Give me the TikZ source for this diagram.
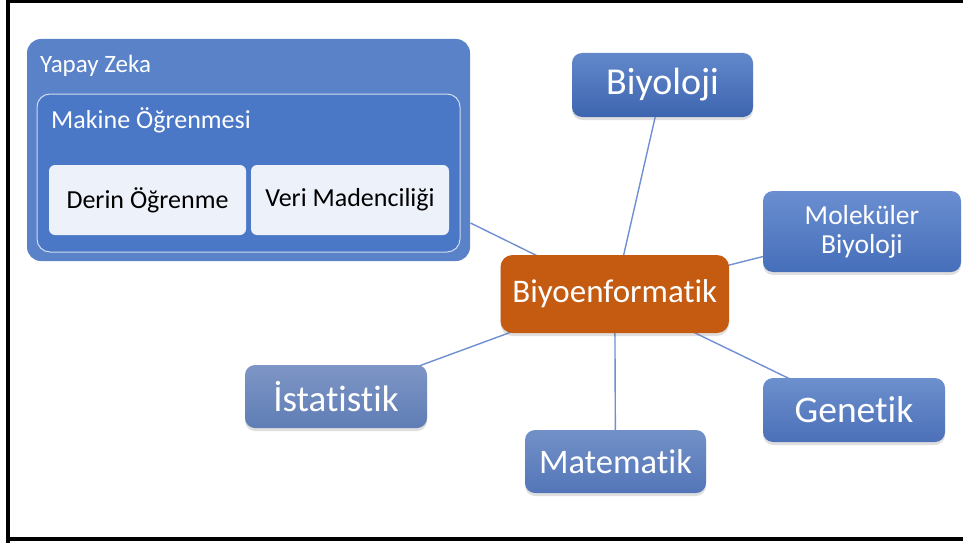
\documentclass[tikz,border=0pt]{standalone}
\usepackage{fontspec}
\setmainfont{Carlito}[Ligatures={NoCommon}]
\usetikzlibrary{shadows,backgrounds}
\definecolor{orangebox}{HTML}{C55A11}
\definecolor{linkblue}{HTML}{6E8FD2}
\definecolor{outerblue}{HTML}{5A82C9}
\definecolor{innerblue}{HTML}{4A77C6}
\definecolor{leaffill}{HTML}{EDF1F9}
\definecolor{innerline}{HTML}{D0DCF0}
\tikzset{
  x=1pt, y=-1pt,
  topic/.style={rounded corners=10pt, inner sep=0pt, text=white, align=center,
    drop shadow={opacity=0.25, shadow xshift=0pt, shadow yshift=-3pt}},
  link/.style={draw=linkblue, line width=1.4pt},
  leaf/.style={fill=leaffill, rounded corners=6pt, inner sep=0pt, text=black,
    minimum width=197pt, minimum height=70pt, font=\fontsize{26}{28}\selectfont},
}
\begin{document}
\begin{tikzpicture}
\useasboundingbox (0,0) rectangle (963,543);
% frame
\draw[line width=3.5pt] (8,543) -- (8,1.5) -- (963,1.5);
\draw[line width=3.5pt] (8,539) -- (963,539);

% containers
\node[fill=outerblue, rounded corners=14pt, minimum width=443pt, minimum height=222pt, inner sep=0pt] (yz) at (248.5,150) {};
\node[anchor=base west, text=white, font=\fontsize{25}{27}\selectfont, inner sep=0pt] (yzl) at (40,73) {Yapay Zeka};
\node[fill=innerblue, draw=innerline, line width=1pt, rounded corners=13pt, minimum width=423pt, minimum height=158pt, inner sep=0pt] (ml) at (248.5,173) {};
\node[anchor=base west, text=white, font=\fontsize{26}{28}\selectfont, inner sep=0pt] (mll) at (51,128) {Makine Öğrenmesi};
\node[leaf] (dl) at (147.5,200) {Derin Öğrenme};
\node[leaf, minimum width=198pt] (dm) at (350,200) {Veri Madenciliği};

% center
\node[fill=orangebox, rounded corners=12pt, inner sep=0pt, text=white,
  minimum width=228.5pt, minimum height=78pt, font=\fontsize{33}{35}\selectfont,
  drop shadow={opacity=0.25, shadow xshift=0pt, shadow yshift=-3pt}] (bio) at (614.75,294) {Biyoenformatik};

% topics
\node[topic, top color={rgb,255:red,98;green,136;blue,203}, bottom color={rgb,255:red,61;green,101;blue,175},
  minimum width=181pt, minimum height=64pt, font=\fontsize{38}{40}\selectfont] (by) at (662.5,85) {Biyoloji};
\node[topic, top color={rgb,255:red,106;green,142;blue,208}, bottom color={rgb,255:red,70;green,111;blue,186},
  minimum width=198pt, minimum height=81pt, font=\fontsize{27.5}{29}\selectfont] (mb) at (862,231.5) {Moleküler\\Biyoloji};
\node[topic, top color={rgb,255:red,126;green,150;blue,198}, bottom color={rgb,255:red,95;green,125;blue,181},
  minimum width=182pt, minimum height=63pt, font=\fontsize{37}{39}\selectfont] (st) at (336,396.5) {İstatistik};
\node[topic, top color={rgb,255:red,114;green,144;blue,200}, bottom color={rgb,255:red,84;green,118;blue,184},
  minimum width=181pt, minimum height=63pt, font=\fontsize{34.5}{36}\selectfont] (mt) at (615.5,461.5) {Matematik};
\node[topic, top color={rgb,255:red,108;green,143;blue,205}, bottom color={rgb,255:red,76;green,112;blue,184},
  minimum width=182pt, minimum height=64pt, font=\fontsize{37.5}{39}\selectfont] (gn) at (854,410) {Genetik};

\coordinate (yzc) at (470.5,223);

\begin{scope}[on background layer]
\draw[link] (yzc) -- (bio.center);
\draw[link] (by.center) -- (bio.center);
\draw[link] (mb.center) -- (bio.center);
\draw[link] (st.center) -- (bio.center);
\draw[link] (mt.center) -- (bio.center);
\draw[link] (gn.center) -- (bio.center);
\end{scope}
\end{tikzpicture}
\end{document}
